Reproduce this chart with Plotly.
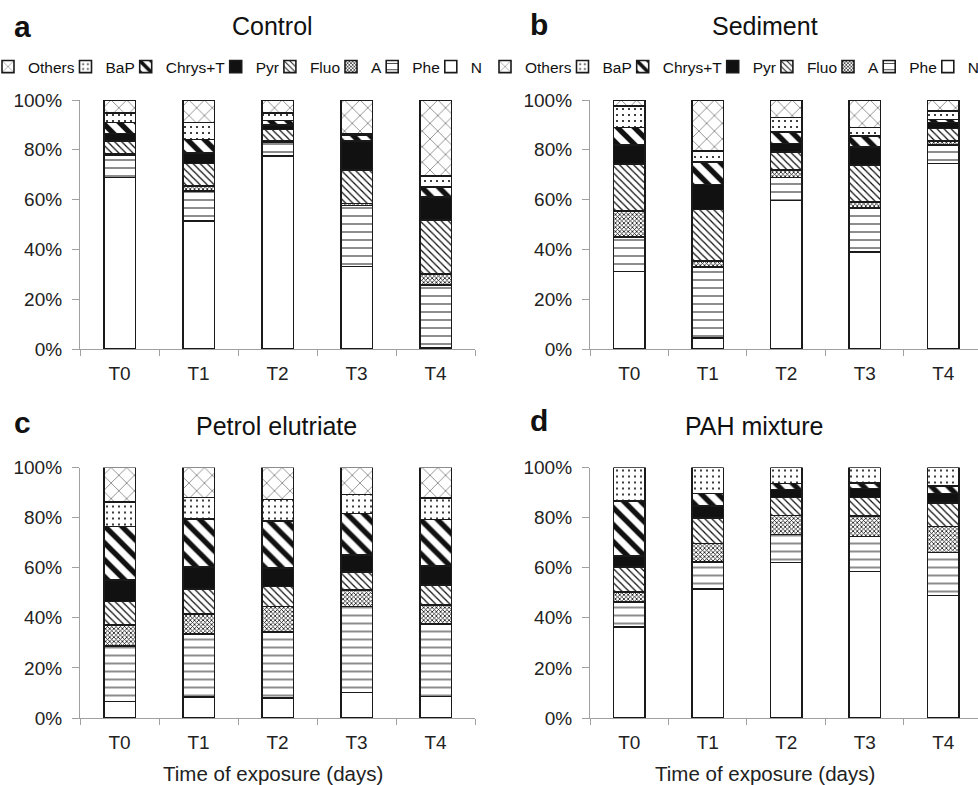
import plotly.graph_objects as go

categories = ["T0", "T1", "T2", "T3", "T4"]
series = ["N", "Phe", "A", "Fluo", "Pyr", "Chrys+T", "BaP", "Others"]
legend_order = ["Others", "BaP", "Chrys+T", "Pyr", "Fluo", "A", "Phe", "N"]

# percentages per series (T0..T4)
control = {
    "N":       [68.9, 51.3, 77.6, 33.2, 0.3],
    "Phe":     [8.8, 12.1, 5.4, 24.5, 25.5],
    "A":       [0.5, 2.1, 0.6, 0.7, 4.4],
    "Fluo":    [5.4, 9.0, 4.6, 13.4, 21.7],
    "Pyr":     [3.0, 4.3, 1.7, 11.8, 9.2],
    "Chrys+T": [4.3, 5.4, 1.8, 2.3, 4.0],
    "BaP":     [4.0, 6.8, 3.2, 0.4, 4.3],
    "Others":  [5.1, 9.0, 5.1, 13.7, 30.6],
}
sediment = {
    "N":       [31.1, 4.4, 59.7, 38.9, 74.5],
    "Phe":     [13.9, 28.5, 9.2, 17.7, 7.4],
    "A":       [10.4, 2.4, 2.9, 2.5, 1.7],
    "Fluo":    [18.8, 20.8, 7.4, 14.7, 5.0],
    "Pyr":     [7.7, 9.9, 3.4, 7.4, 2.3],
    "Chrys+T": [7.1, 9.2, 4.6, 4.3, 1.3],
    "BaP":     [8.6, 4.3, 5.8, 3.5, 3.5],
    "Others":  [2.4, 20.5, 7.0, 11.0, 4.3],
}
petrol = {
    "N":       [6.6, 8.4, 8.0, 10.2, 8.6],
    "Phe":     [22.2, 25.2, 26.3, 34.3, 28.9],
    "A":       [8.4, 8.0, 10.2, 6.6, 7.7],
    "Fluo":    [9.3, 9.8, 8.0, 7.3, 7.9],
    "Pyr":     [8.6, 8.8, 7.5, 6.7, 7.6],
    "Chrys+T": [21.3, 19.2, 18.6, 16.6, 18.6],
    "BaP":     [9.9, 8.6, 8.7, 7.5, 8.6],
    "Others":  [13.7, 12.0, 12.7, 10.8, 12.1],
}
pah = {
    "N":       [36.3, 51.6, 62.0, 58.5, 48.9],
    "Phe":     [10.0, 10.7, 11.3, 14.0, 17.1],
    "A":       [4.0, 7.3, 7.6, 8.2, 10.5],
    "Fluo":    [10.0, 10.3, 7.1, 7.3, 9.4],
    "Pyr":     [4.4, 4.8, 3.2, 3.6, 3.7],
    "Chrys+T": [22.0, 4.9, 2.4, 2.3, 2.9],
    "BaP":     [13.3, 10.4, 6.4, 6.1, 7.5],
    "Others":  [0.0, 0.0, 0.0, 0.0, 0.0],
}

y_ticks = [0, 20, 40, 60, 80, 100]
y_ticktext = ["0%", "20%", "40%", "60%", "80%", "100%"]

styles = {
    "N":       dict(color="white", pattern=None),
    "Phe":     dict(color="white", pattern=dict(shape="-", size=8, solidity=0.12)),
    "A":       dict(color="white", pattern=dict(shape="x", size=3, solidity=0.45)),
    "Fluo":    dict(color="white", pattern=dict(shape="\\", size=5, solidity=0.25)),
    "Pyr":     dict(color="#111111", pattern=None),
    "Chrys+T": dict(color="white", pattern=dict(shape="\\", size=12, solidity=0.45)),
    "BaP":     dict(color="white", pattern=dict(shape=".", size=6, solidity=0.1)),
    "Others":  dict(color="white", pattern=dict(shape="x", size=11, solidity=0.08)),
}

W, H = 978, 785
fig = go.Figure()

panels = [
    (control, "x", "y", "a"),
    (sediment, "x2", "y2", "b"),
    (petrol, "x3", "y3", None),
    (pah, "x4", "y4", None),
]

for data, xa, ya, leg in panels:
    for s in series:
        st = styles[s]
        marker = dict(color=st["color"], line=dict(color="#1a1a1a", width=1.6))
        if st["pattern"] is not None:
            p = dict(st["pattern"])
            p.update(fgcolor="#111111", bgcolor="white", fillmode="replace")
            marker["pattern"] = p
        k = legend_order.index(s)
        if leg == "a":
            legid = "legend" if k == 0 else "legend%d" % (k + 1)
        elif leg == "b":
            legid = "legend%d" % (k + 9)
        else:
            legid = None
        tr = go.Bar(
            x=categories, y=data[s], name=s, marker=marker,
            xaxis=xa, yaxis=ya, width=0.4,
            showlegend=leg is not None,
        )
        if legid:
            tr.legend = legid
        fig.add_trace(tr)

# domains in pixels
xa_dom = [80 / W, 475 / W]
xb_dom = [590 / W, 1.0]
ytop_dom = [1 - 349 / H, 1 - 100 / H]
ybot_dom = [1 - 718 / H, 1 - 467.5 / H]

axis_font = dict(family="Liberation Sans, Arial, sans-serif", size=19, color="#222")

def xaxis(dom, rng, anchor):
    return dict(domain=dom, range=rng, anchor=anchor, type="category",
                showline=True, linecolor="#a0a0a0", linewidth=1.2,
                ticks="outside", tickson="boundaries", ticklen=6, tickcolor="#a0a0a0",
                ticklabelstandoff=7,
                tickfont=axis_font, showgrid=False, zeroline=False, fixedrange=True)

def yaxis(dom, anchor):
    return dict(domain=dom, range=[0, 100], anchor=anchor,
                showline=True, linecolor="#a0a0a0", linewidth=1.2,
                ticks="outside", ticklen=7, tickcolor="#a0a0a0",
                ticklabelstandoff=6,
                tickvals=y_ticks, ticktext=y_ticktext, tickfont=axis_font,
                showgrid=False, zeroline=False, fixedrange=True)

fig.update_layout(
    xaxis=xaxis(xa_dom, [-0.5, 4.5], "y"),
    yaxis=yaxis(ytop_dom, "x"),
    xaxis2=xaxis(xb_dom, [-0.5, 4.443], "y2"),
    yaxis2=yaxis(ytop_dom, "x2"),
    xaxis3=xaxis(xa_dom, [-0.5, 4.5], "y3"),
    yaxis3=yaxis(ybot_dom, "x3"),
    xaxis4=xaxis(xb_dom, [-0.5, 4.443], "y4"),
    yaxis4=yaxis(ybot_dom, "x4"),
)

# legends: one entry per legend so entries can sit close together (swatch start, px)
sym_a = [0, 77.5, 137.7, 227.7, 281.9, 343.0, 384.2, 442.8]
sym_b = [497, 574.5, 634.7, 724.7, 778.9, 840.0, 881.2, 939.8]
leg_font = dict(family="Liberation Sans, Arial, sans-serif", size=15.5, color="#111")
legends = {}
for k in range(8):
    for j, sx in enumerate([sym_a[k], sym_b[k]]):
        idx = k + 1 + 8 * j
        key = "legend" if idx == 1 else "legend%d" % idx
        legends[key] = dict(
            x=(sx - 12) / W, y=1 - 67 / H, xanchor="left", yanchor="middle",
            orientation="h", bgcolor="rgba(0,0,0,0)", borderwidth=0,
            font=leg_font, itemclick=False, itemdoubleclick=False,
        )
fig.update_layout(**legends)

title_font = dict(family="Liberation Sans, Arial, sans-serif", size=25, color="#111")
letter_font = dict(family="Liberation Sans, Arial, sans-serif", size=30, color="#111", weight="bold")
ann = []
for txt, x, y in [("a", 12, 27), ("b", 528, 25), ("c", 12, 422), ("d", 528, 420)]:
    ann.append(dict(text=txt, x=x / W, y=1 - y / H, xref="paper", yref="paper",
                    xanchor="left", yanchor="middle", showarrow=False, font=letter_font))
for txt, x, y in [("Control", 272, 26), ("Sediment", 765, 26),
                  ("Petrol elutriate", 276, 426), ("PAH mixture", 754, 426)]:
    ann.append(dict(text=txt, x=x / W, y=1 - y / H, xref="paper", yref="paper",
                    xanchor="center", yanchor="middle", showarrow=False, font=title_font))
for x in [273, 765]:
    ann.append(dict(text="Time of exposure (days)", x=x / W, y=1 - 773 / H,
                    xref="paper", yref="paper", xanchor="center", yanchor="middle",
                    showarrow=False,
                    font=dict(family="Liberation Sans, Arial, sans-serif", size=20.5, color="#222")))

fig.update_layout(
    width=W, height=H, margin=dict(l=0, r=0, t=0, b=0, autoexpand=False),
    paper_bgcolor="white", plot_bgcolor="white",
    barmode="stack", barnorm="percent",
    annotations=ann,
)

fig.write_html("out.html", config={"displayModeBar": False})
